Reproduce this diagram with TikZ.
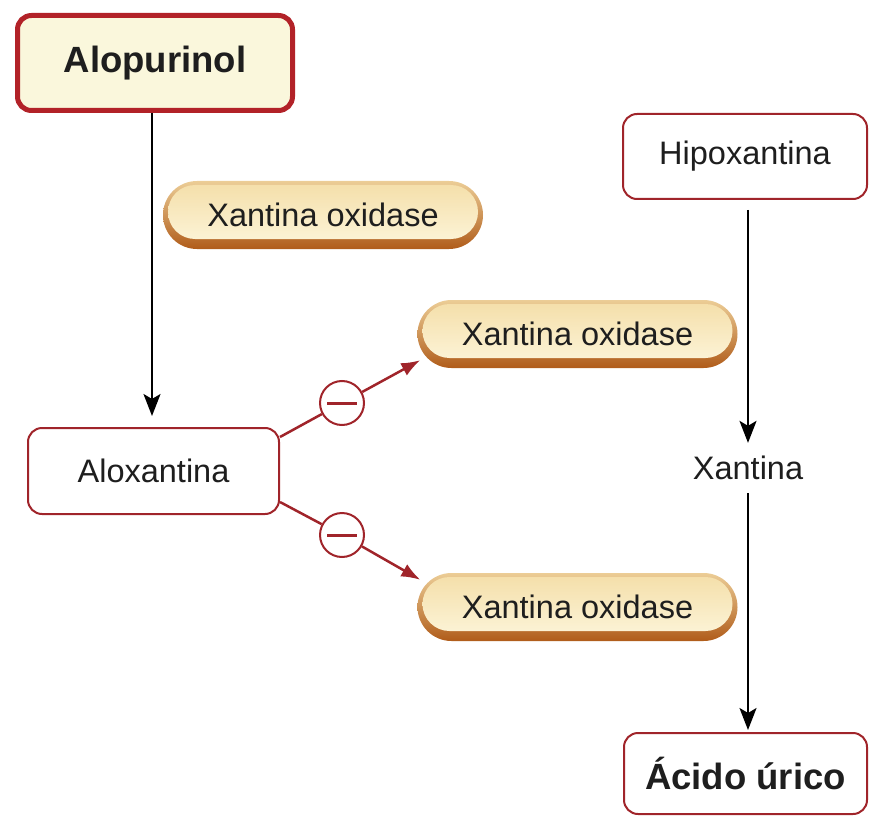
\documentclass[tikz,border=0pt]{standalone}
\usepackage{fontspec}
\setmainfont{Liberation Sans}
\usetikzlibrary{arrows.meta,positioning,calc}
\definecolor{xored}{RGB}{160,36,42}
\definecolor{xodark}{RGB}{178,34,40}
\definecolor{xocream}{RGB}{250,247,220}
\definecolor{pilltop}{RGB}{236,205,150}
\definecolor{pillbot}{RGB}{176,92,26}
\definecolor{pillinA}{RGB}{244,222,168}
\definecolor{pillinB}{RGB}{253,246,220}
\definecolor{xotext}{RGB}{30,30,30}

\begin{document}
\begin{tikzpicture}[x=1pt,y=1pt,
      every node/.style={font=\fontsize{32.5}{38}\selectfont,text=xotext},
      box/.style={draw=xored,line width=2pt,fill=white,rounded corners=14pt,
                  inner sep=0pt,align=center},
      drugbox/.style={box,draw=xodark,line width=5pt,fill=xocream,
                  font=\fontsize{36.5}{42}\selectfont\bfseries},
      pill/.style={rounded corners=34pt,minimum width=320pt,minimum height=68pt,
                  inner sep=0pt,top color=pilltop,bottom color=pillbot,
                  path picture={\shade[top color=pillinA,bottom color=pillinB,rounded corners=27pt]
                    ([shift={(5pt,-4pt)}]path picture bounding box.north west) rectangle
                    ([shift={(-5pt,10pt)}]path picture bounding box.south east);}},
      inhib/.style={circle,draw=xored,line width=2pt,fill=white,minimum size=44pt,inner sep=0pt},
      flow/.style={line width=2.2pt,-{Stealth[length=22pt,width=17pt,inset=5pt]}},
      block/.style={draw=xored,line width=2.5pt}]
    \useasboundingbox (0,0) rectangle (869,-826);
    \node[drugbox,minimum width=275pt,minimum height=95pt] (alop) at (155,-63) {Alopurinol};
    \node[box,minimum width=244pt,minimum height=85pt] (hipo) at (745,-156.5) {Hipoxantina};
    \node[box,minimum width=251pt,minimum height=86pt] (alox) at (153.5,-471) {Aloxantina};
    \node[box,minimum width=243pt,minimum height=81pt,font=\fontsize{36.5}{42}\selectfont\bfseries]
      (urico) at (745.5,-773.5) {Ácido úrico};
    \node[inner sep=13pt] (xan) at (748,-468) {Xantina};
    \node[pill] (ox1) at (323,-215) {Xantina oxidase};
    \node[pill] (ox2) at (577.5,-334) {Xantina oxidase};
    \node[pill] (ox3) at (577.5,-607) {Xantina oxidase};
    \node[inhib] (inh1) at (342,-403) {\textcolor{xored}{\rule{30pt}{3pt}}};
    \node[inhib] (inh2) at (342,-535) {\textcolor{xored}{\rule{30pt}{3pt}}};
    % main pathways
    \draw[flow] (alop.south -| 152,0) -- ([yshift=11pt]alox.north -| 152,0);
    \draw[flow] ([yshift=-10pt]hipo.south -| xan) -- (xan.north);
    \draw[flow] (xan.south) -- ([yshift=2pt]urico.north -| xan);
    % inhibition by aloxantina
    \draw[block] ([yshift=34pt]alox.east) -- (inh1);
    \draw[block,-{Latex[length=19pt,width=14pt]}] (inh1) -- ([shift={(3pt,8pt)}]ox2.south west);
    \draw[block] ([yshift=-31pt]alox.east) -- (inh2);
    \draw[block,-{Latex[length=19pt,width=14pt]}] (inh2) -- ([shift={(3pt,-7pt)}]ox3.north west);
  \end{tikzpicture}
\end{document}
